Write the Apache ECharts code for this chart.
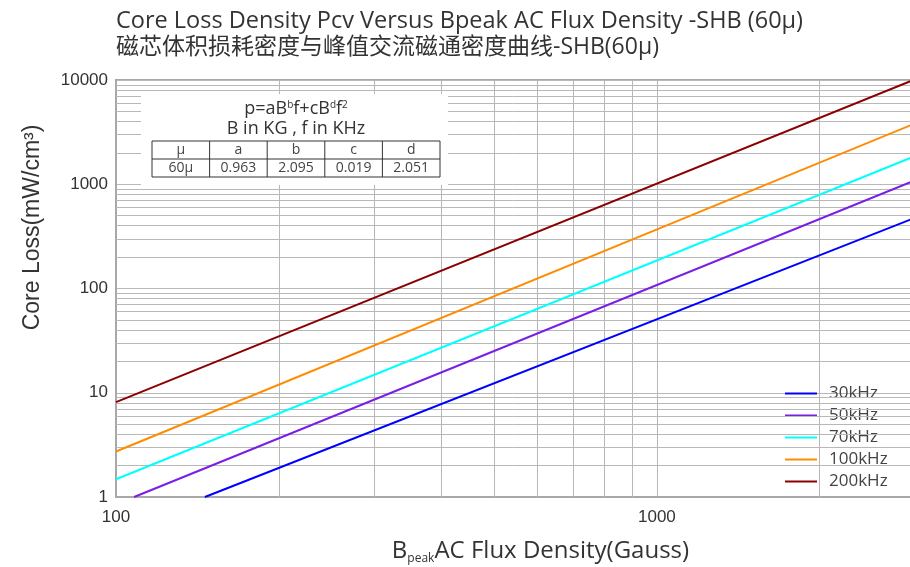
<!DOCTYPE html>
<html><head><meta charset="utf-8">
<script src="https://cdn.jsdelivr.net/npm/echarts@6/dist/echarts.min.js"></script>
<style>html,body{margin:0;padding:0;background:#fff}#c{width:910px;height:567px}</style>
</head><body><div id="c"></div>
<script>
// ---- data ----
const seriesNames  = ['30kHz', '50kHz', '70kHz', '100kHz', '200kHz'];
const fluxStart    = [146, 108, 100, 100, 100];      // Gauss
const lossStart    = [1, 1, 1.48, 2.73, 8.14];       // mW/cm3
const fluxEnd      = [3000, 3000, 3000, 3000, 3000];
const lossEnd      = [477, 1090, 1860, 3830, 10140];
const xMinorTicks  = [200, 300, 400, 500, 600, 700, 800, 900, 2000, 3000];
const yMinorTicks  = [2, 3, 4, 5, 6, 7, 8, 9, 20, 30, 40, 50, 60, 70, 80, 90,
                      200, 300, 400, 500, 600, 700, 800, 900, 2000, 3000, 4000, 5000, 6000, 7000, 8000, 9000];
const tableHead    = ['μ', 'a', 'b', 'c', 'd'];
const tableRow     = ['60μ', '0.963', '2.095', '0.019', '2.051'];

const seriesColors = ['#0000ff', '#7a1ee6', '#00ffff', '#ff8c00', '#8b0000'];
const HUM = "'Open Sans','Noto Sans CJK SC',sans-serif";
const ARI = "'Liberation Sans',Arial,sans-serif";
const gridColor = '#b8b8b8';

function decadeLabel(v) {
  const l = Math.log10(v);
  return Math.abs(l - Math.round(l)) < 1e-9 ? String(Math.round(v)) : '';
}

const chart = echarts.init(document.getElementById('c'), null, {renderer: 'canvas'});

const dataSeries = seriesNames.map((n, i) => ({
  name: n, type: 'line', z: 5, symbol: 'none', clip: true,
  lineStyle: {color: seriesColors[i], width: 2},
  itemStyle: {color: seriesColors[i]},
  data: [[fluxStart[i], lossStart[i]], [fluxEnd[i], lossEnd[i]]],
  emphasis: {disabled: true}
}));

const gridSeries = {
  name: 'grid', type: 'line', z: 1, data: [], silent: true,
  markLine: {
    silent: true, symbol: ['none', 'none'], animation: false,
    label: {show: false},
    lineStyle: {color: gridColor, width: 1, type: 'solid'},
    emphasis: {disabled: true},
    data: xMinorTicks.map(v => ({xAxis: v})).concat(yMinorTicks.map(v => ({yAxis: v})))
  }
};

// inset formula box + table
const tx0 = 152, ty0 = 141, cw = 57.6, rh = 18;
const graphics = [
  {type: 'rect', left: 141, top: 94, z: 50, shape: {width: 307, height: 91}, style: {fill: '#fff'}},
  {type: 'text', z: 51, x: 296, y: 109, style: {
    text: 'p=aB{s|b}f+cB{s|d}f{s|2}', fill: '#333', font: '18px ' + HUM,
    align: 'center', verticalAlign: 'middle',
    rich: {s: {fontSize: 10, fontFamily: HUM, fill: '#333', verticalAlign: 'top', lineHeight: 10}}
  }},
  {type: 'text', z: 51, x: 296, y: 129, style: {
    text: 'B in KG , f in KHz', fill: '#333', font: '18px ' + HUM, align: 'center', verticalAlign: 'middle'}},
  {type: 'rect', z: 51, shape: {x: tx0, y: ty0, width: cw * 5, height: rh * 2},
    style: {fill: 'none', stroke: '#333', lineWidth: 1}},
  {type: 'line', z: 51, shape: {x1: tx0, y1: ty0 + rh, x2: tx0 + cw * 5, y2: ty0 + rh},
    style: {stroke: '#333', lineWidth: 1}}
];
for (let i = 1; i < 5; i++) {
  graphics.push({type: 'line', z: 51, shape: {x1: tx0 + cw * i, y1: ty0, x2: tx0 + cw * i, y2: ty0 + rh * 2},
    style: {stroke: '#333', lineWidth: 1}});
}
for (let i = 0; i < 5; i++) {
  graphics.push({type: 'text', z: 52, x: tx0 + cw * (i + 0.5), y: ty0 + rh * 0.5,
    style: {text: tableHead[i], fill: '#444', font: '14px ' + HUM, align: 'center', verticalAlign: 'middle'}});
  graphics.push({type: 'text', z: 52, x: tx0 + cw * (i + 0.5), y: ty0 + rh * 1.5,
    style: {text: tableRow[i], fill: '#444', font: '14px ' + HUM, align: 'center', verticalAlign: 'middle'}});
}

chart.setOption({
  animation: false,
  backgroundColor: '#fff',
  title: [
    {text: 'Core Loss Density Pcv Versus Bpeak AC Flux Density -SHB (60μ)', left: 116, top: 10, padding: 0,
     textStyle: {fontSize: 23.5, fontWeight: 'normal', color: '#333', fontFamily: HUM}},
    {text: '磁芯体积损耗密度与峰值交流磁通密度曲线-SHB(60μ)', left: 116, top: 36, padding: 0,
     textStyle: {fontSize: 23, fontWeight: 'normal', color: '#333', fontFamily: HUM}}
  ],
  grid: {left: 116, right: -5, top: 80, bottom: 70, show: true, borderColor: '#a8a8a8', borderWidth: 2,
         outerBoundsMode: 'none', containLabel: false},
  legend: {
    orient: 'vertical', left: 780, top: 380, itemWidth: 32, itemHeight: 2, itemGap: 5, icon: 'rect',
    data: seriesNames,
    textStyle: {fontSize: 17, color: '#444', fontFamily: HUM, padding: [0, 0, 0, 7]},
    selectedMode: false
  },
  xAxis: {
    type: 'log', logBase: 10, min: 100, max: 3000,
    name: '{a|B}{s|peak}{a|AC Flux Density(Gauss)}',
    nameLocation: 'middle', nameGap: 40,
    nameTextStyle: {
      padding: [0, 0, 0, 50],
      rich: {
        a: {fontSize: 24, fontFamily: HUM, color: '#333', lineHeight: 28},
        s: {fontSize: 12, fontFamily: HUM, color: '#333', lineHeight: 8, verticalAlign: 'bottom'}
      }
    },
    axisLine: {show: true, lineStyle: {color: '#a8a8a8', width: 2}},
    axisTick: {show: false},
    axisLabel: {fontSize: 17, color: '#333', fontFamily: ARI, margin: 12, formatter: decadeLabel, showMaxLabel: false},
    splitLine: {show: true, lineStyle: {color: gridColor, width: 1}},
    minorTick: {show: false}, minorSplitLine: {show: false}
  },
  yAxis: {
    type: 'log', logBase: 10, min: 1, max: 10000,
    name: 'Core Loss(mW/cm³)', nameLocation: 'middle', nameGap: 72,
    nameTextStyle: {fontSize: 23, color: '#333', fontFamily: ARI, padding: [0, 0, 0, 122]},
    axisLine: {show: true, lineStyle: {color: '#a8a8a8', width: 2}},
    axisTick: {show: false},
    axisLabel: {fontSize: 17, color: '#333', fontFamily: ARI, margin: 8, formatter: decadeLabel},
    splitLine: {show: true, lineStyle: {color: gridColor, width: 1}}
  },
  graphic: graphics,
  series: [gridSeries].concat(dataSeries)
});
</script></body></html>
